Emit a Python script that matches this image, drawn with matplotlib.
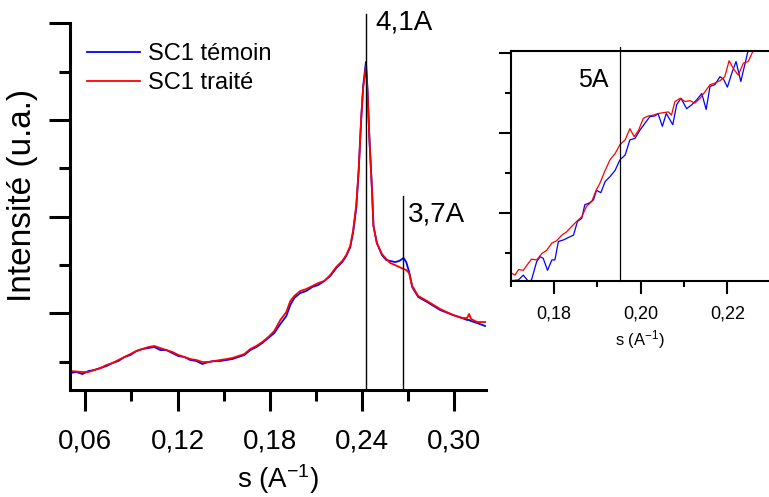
import matplotlib
matplotlib.use('Agg')
import matplotlib.pyplot as plt
from matplotlib.ticker import MultipleLocator, FuncFormatter

plt.rcParams['font.family'] = ['Liberation Sans', 'DejaVu Sans']
plt.rcParams['mathtext.default'] = 'regular'

# main pattern, s in A^-1, intensity in arbitrary units
s_main = [0.0503, 0.0542, 0.0581, 0.0620, 0.0659, 0.0698, 0.0737, 0.0776, 0.0815, 0.0854,
          0.0893, 0.0932, 0.0971, 0.1010, 0.1049, 0.1088, 0.1127, 0.1166, 0.1205, 0.1244,
          0.1283, 0.1322, 0.1361, 0.1400, 0.1439, 0.1478, 0.1517, 0.1556, 0.1595, 0.1634,
          0.1673, 0.1712, 0.1751, 0.1790, 0.1829, 0.1868, 0.1907, 0.1933, 0.1959, 0.1998,
          0.2037, 0.2076, 0.2115, 0.2154, 0.2193, 0.2232, 0.2271, 0.2297, 0.2323, 0.2342,
          0.2362, 0.2378, 0.2394, 0.2407, 0.2425, 0.2435, 0.2448, 0.2464, 0.2474, 0.2496,
          0.2529, 0.2557, 0.2583, 0.2615, 0.2641, 0.2670, 0.2687, 0.2706, 0.2726, 0.2765,
          0.2823, 0.2908, 0.2992, 0.3051, 0.3083, 0.3096, 0.3109, 0.3148, 0.3200]
temoin = [0.383, 0.393, 0.372, 0.403, 0.414, 0.434, 0.455, 0.486, 0.507, 0.548,
          0.569, 0.610, 0.631, 0.641, 0.651, 0.620, 0.620, 0.589, 0.558, 0.548,
          0.517, 0.507, 0.476, 0.496, 0.507, 0.507, 0.517, 0.527, 0.548, 0.569,
          0.620, 0.651, 0.693, 0.745, 0.796, 0.889, 0.972, 1.086, 1.158, 1.210,
          1.231, 1.272, 1.293, 1.334, 1.386, 1.468, 1.530, 1.593, 1.686, 1.841,
          2.089, 2.482, 2.999, 3.351, 3.599, 3.330, 2.792, 2.296, 1.903, 1.727,
          1.603, 1.551, 1.541, 1.530, 1.541, 1.572, 1.530, 1.427, 1.272, 1.169,
          1.117, 1.034, 0.982, 0.951, 0.931, 0.931, 0.920, 0.900, 0.869]
traite = [0.403, 0.398, 0.393, 0.393, 0.414, 0.434, 0.465, 0.486, 0.517, 0.548,
          0.579, 0.610, 0.631, 0.651, 0.662, 0.641, 0.620, 0.600, 0.569, 0.548,
          0.527, 0.517, 0.496, 0.496, 0.507, 0.517, 0.527, 0.538, 0.558, 0.579,
          0.631, 0.662, 0.703, 0.755, 0.817, 0.931, 1.013, 1.127, 1.179, 1.231,
          1.251, 1.282, 1.313, 1.334, 1.396, 1.479, 1.541, 1.603, 1.696, 1.861,
          2.120, 2.482, 3.020, 3.330, 3.557, 3.289, 2.792, 2.275, 1.903, 1.727,
          1.613, 1.562, 1.520, 1.499, 1.479, 1.458, 1.448, 1.417, 1.282, 1.179,
          1.127, 1.044, 0.982, 0.951, 0.951, 0.993, 0.941, 0.910, 0.910]

# zoomed region (inset)
s_in_t = [0.1700, 0.1718, 0.1729, 0.1741, 0.1748, 0.1760, 0.1768, 0.1775, 0.1785, 0.1795,
          0.1802, 0.1810, 0.1822, 0.1833, 0.1845, 0.1854, 0.1864, 0.1871, 0.1881, 0.1891,
          0.1898, 0.1908, 0.1918, 0.1929, 0.1941, 0.1952, 0.1964, 0.1975, 0.1987, 0.1998,
          0.2010, 0.2021, 0.2033, 0.2040, 0.2050, 0.2059, 0.2074, 0.2083, 0.2093, 0.2106,
          0.2118, 0.2129, 0.2141, 0.2151, 0.2160, 0.2171, 0.2183, 0.2191, 0.2200, 0.2210,
          0.2220, 0.2231, 0.2241, 0.2248, 0.2260]
in_temoin = [0.15, 0.16, 0.22, 0.14, 0.16, 0.39, 0.45, 0.43, 0.28, 0.41,
             0.41, 0.64, 0.66, 0.69, 0.72, 0.89, 0.93, 1.10, 1.12, 1.16,
             1.28, 1.25, 1.39, 1.45, 1.53, 1.66, 1.72, 1.91, 1.93, 2.03,
             2.12, 2.20, 2.21, 2.24, 2.08, 2.24, 2.10, 2.35, 2.43, 2.30,
             2.35, 2.41, 2.49, 2.29, 2.58, 2.60, 2.70, 2.67, 2.57, 2.74,
             2.89, 2.64, 2.87, 3.03, 3.10]
s_in_r = [0.1700, 0.1710, 0.1718, 0.1729, 0.1741, 0.1748, 0.1760, 0.1772, 0.1783, 0.1795,
          0.1806, 0.1818, 0.1829, 0.1841, 0.1852, 0.1864, 0.1875, 0.1887, 0.1897, 0.1906,
          0.1918, 0.1929, 0.1941, 0.1952, 0.1964, 0.1975, 0.1985, 0.1995, 0.2006, 0.2018,
          0.2029, 0.2041, 0.2052, 0.2064, 0.2071, 0.2079, 0.2091, 0.2102, 0.2114, 0.2125,
          0.2137, 0.2148, 0.2160, 0.2171, 0.2183, 0.2194, 0.2204, 0.2214, 0.2225, 0.2237,
          0.2248, 0.2260]
in_traite = [0.25, 0.22, 0.29, 0.28, 0.37, 0.42, 0.41, 0.49, 0.53, 0.62,
             0.65, 0.72, 0.76, 0.83, 0.89, 0.95, 1.08, 1.14, 1.28, 1.37,
             1.53, 1.66, 1.74, 1.85, 1.91, 2.05, 1.95, 2.03, 2.18, 2.21,
             2.22, 2.24, 2.25, 2.26, 2.22, 2.39, 2.43, 2.39, 2.40, 2.37,
             2.43, 2.51, 2.60, 2.62, 2.65, 2.70, 2.90, 2.80, 2.72, 2.87,
             2.89, 3.03]

# d-spacing markers
peak_labels = ['4,1A', '3,7A']
peak_s = [0.2425, 0.2669]
peak_top = [4.09, 2.21]
inset_label = '5A'
inset_s = 0.1952

comma = FuncFormatter(lambda x, pos: f'{x:.2f}'.replace('.', ','))

fig = plt.figure(figsize=(7.69, 4.97), dpi=100)

# ---- main plot
ax = fig.add_axes([0.091, 0.2153, 0.541, 0.739])
ax.plot(s_main, temoin, color='#0000ff', lw=1.3, label='SC1 témoin')
ax.plot(s_main, traite, color='#ff0000', lw=1.3, label='SC1 traité')
ax.set_xlim(0.05, 0.3206)
ax.set_ylim(0.207, 4.005)

for lab, s, top in zip(peak_labels, peak_s, peak_top):
    ax.plot([s, s], [0.207, top], color='black', lw=1.0, clip_on=False)
ax.text(0.2485, 4.01, peak_labels[0], fontsize=20, va='center', ha='left')
ax.text(0.2700, 2.02, peak_labels[1], fontsize=20, va='center', ha='left')

for sp in ['top', 'right']:
    ax.spines[sp].set_visible(False)
for sp in ['left', 'bottom']:
    ax.spines[sp].set_linewidth(2.2)

ax.set_xticks([0.06, 0.12, 0.18, 0.24, 0.30])
ax.xaxis.set_minor_locator(MultipleLocator(0.03))
ax.xaxis.set_major_formatter(comma)
ax.yaxis.set_major_locator(MultipleLocator(1.0))
ax.yaxis.set_minor_locator(MultipleLocator(0.5))
ax.tick_params(axis='both', which='major', direction='out', length=15, width=2.2, labelsize=20, pad=13)
ax.tick_params(axis='both', which='minor', direction='out', length=8, width=2.2)
ax.tick_params(axis='y', labelleft=False)

ax.set_xlabel('s (A$^{-1}$)', fontsize=20, labelpad=5)
ax.set_ylabel('Intensité (u.a.)', fontsize=24)
ax.yaxis.set_label_coords(-0.078, 0.53)

ax.legend(loc='upper left', bbox_to_anchor=(0.0, 0.99), frameon=False, fontsize=17,
          handlelength=2.25, handletextpad=0.35, labelspacing=0.3, borderaxespad=0.3)

# ---- inset
ax2 = fig.add_axes([0.6641, 0.4352, 0.337, 0.4628])
ax2.plot(s_in_t, in_temoin, color='#0000ff', lw=0.9)
ax2.plot(s_in_r, in_traite, color='#ff0000', lw=0.9)
ax2.set_xlim(0.17, 0.2298)
ax2.set_ylim(0.15, 3.025)
ax2.plot([inset_s, inset_s], [0.15, 3.075], color='black', lw=0.9, clip_on=False)
ax2.text(0.1855, 2.66, inset_label, fontsize=18, va='center', ha='left')

ax2.spines['right'].set_visible(False)
for sp in ['left', 'bottom', 'top']:
    ax2.spines[sp].set_linewidth(1.5)
ax2.set_xticks([0.18, 0.20, 0.22])
ax2.xaxis.set_minor_locator(MultipleLocator(0.01))
ax2.xaxis.set_major_formatter(comma)
ax2.yaxis.set_major_locator(MultipleLocator(1.0))
ax2.yaxis.set_minor_locator(MultipleLocator(0.5))
ax2.tick_params(axis='both', which='major', direction='out', length=9, width=1.5, labelsize=13, pad=9)
ax2.tick_params(axis='both', which='minor', direction='out', length=4.5, width=1.5)
ax2.tick_params(axis='y', labelleft=False)
ax2.set_xlabel('s (A$^{-1}$)', fontsize=12, labelpad=4)

fig.savefig('out.png', dpi=100)
